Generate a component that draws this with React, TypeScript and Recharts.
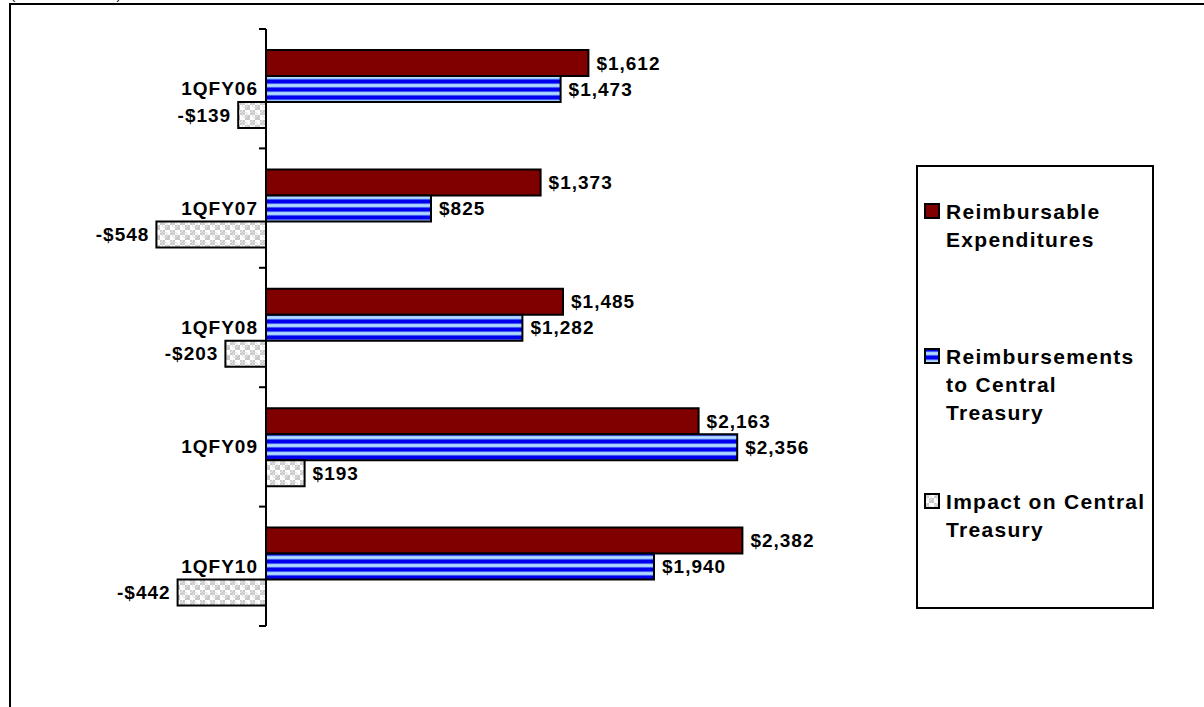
import React from "react"
import { BarChart, Bar, XAxis, YAxis, LabelList, ReferenceLine } from "recharts"

// Quarter labels and series values (millions of dollars)
const PERIODS = ["1QFY06", "1QFY07", "1QFY08", "1QFY09", "1QFY10"]
const EXPENDITURES = [1612, 1373, 1485, 2163, 2382]
const REIMBURSEMENTS = [1473, 825, 1282, 2356, 1940]
const IMPACT = [-139, -548, -203, 193, -442]

const SERIES_NAMES = [
  "Reimbursable\nExpenditures",
  "Reimbursements\nto Central\nTreasury",
  "Impact on Central\nTreasury",
]
const SERIES_KEYS = ["expenditures", "reimbursements", "impact"]
const SERIES_FILLS = ["#800000", "url(#blueStripes)", "url(#grayChecks)"]

const data = PERIODS.map((period, i) => ({
  period,
  expenditures: EXPENDITURES[i],
  reimbursements: REIMBURSEMENTS[i],
  impact: IMPACT[i],
}))

const FONT = "'Liberation Sans', Arial, sans-serif"

// chart geometry
const CHART_W = 1204
const CHART_H = 707
const MARGIN = { top: 29, right: 338, bottom: 81, left: 6 }
const Y_AXIS_W = 60
const X_DOMAIN: [number, number] = [-1000, 3000]
const PLOT_W = CHART_W - MARGIN.left - MARGIN.right - Y_AXIS_W
// the category axis crosses the value axis at zero, like the Excel original
const ZERO_SHIFT = ((0 - X_DOMAIN[0]) / (X_DOMAIN[1] - X_DOMAIN[0])) * PLOT_W

function money(v: number) {
  const abs = Math.abs(v).toString().replace(/\B(?=(\d{3})+(?!\d))/g, ",")
  return (v < 0 ? "-$" : "$") + abs
}

// value label: right of positive bars, left of negative bars
function ValueLabel(props: any) {
  const { x, y, width, height, value } = props
  const left = Math.min(x, x + width)
  const right = Math.max(x, x + width)
  const neg = value < 0
  return (
    <text
      x={neg ? left - 7 : right + 8}
      y={y + height / 2 + 6.5}
      textAnchor={neg ? "end" : "start"}
      fontFamily={FONT}
      fontWeight="bold"
      fontSize={19}
      letterSpacing={1}
      fill="#000"
    >
      {money(value)}
    </text>
  )
}

// category label plus tick marks on the band boundaries
function CategoryTick(props: any) {
  const { y, payload, index, visibleTicksCount } = props
  const x = props.x + ZERO_SHIFT
  const half = payload?.offset ?? 0
  const last = index === visibleTicksCount - 1
  return (
    <g>
      <line x1={x + 1} x2={x + 8} y1={y - half} y2={y - half} stroke="#000" strokeWidth={2} />
      {last && <line x1={x + 1} x2={x + 8} y1={y + half} y2={y + half} stroke="#000" strokeWidth={2} />}
      <text
        x={x}
        y={y + 6.5}
        textAnchor="end"
        fontFamily={FONT}
        fontWeight="bold"
        fontSize={19}
        letterSpacing={1}
        fill="#000"
      >
        {payload.value}
      </text>
    </g>
  )
}

function Swatch({ fill }: { fill: string }) {
  return (
    <svg width={16} height={16} style={{ position: "absolute", left: 6, top: 5 }}>
      <rect x={1} y={1} width={14} height={14} fill={fill} stroke="#000" strokeWidth={2} />
    </svg>
  )
}

export default function App() {
  return (
    <div
      style={{
        position: "fixed",
        left: 0,
        top: 0,
        width: CHART_W,
        height: CHART_H,
        overflow: "hidden",
        background: "#fff",
      }}
    >
      <div
        style={{
          position: "absolute",
          left: 11,
          top: -13,
          fontFamily: FONT,
          fontSize: 13,
          whiteSpace: "nowrap",
        }}
      >
        (Dollars in Millions)
      </div>
      <div
        style={{
          position: "absolute",
          left: 9,
          top: 3,
          width: 1300,
          height: 800,
          border: "2px solid #000",
          boxSizing: "border-box",
        }}
      />
      <div style={{ position: "absolute", left: 0, top: 0 }}>
        <BarChart
          width={CHART_W}
          height={CHART_H}
          data={data}
          layout="vertical"
          margin={MARGIN}
          barSize={26}
          barGap={0}
        >
          <defs>
            <pattern id="blueStripes" patternUnits="userSpaceOnUse" width={8} height={8}>
              <rect x={0} y={0} width={8} height={8} fill="#0000ee" />
              <rect x={0} y={3.5} width={8} height={4} fill="#80b3ff" />
              <rect x={0} y={4.5} width={8} height={2} fill="#b8dcff" />
            </pattern>
            <pattern id="grayChecks" patternUnits="userSpaceOnUse" width={10} height={10}>
              <rect x={0} y={0} width={10} height={10} fill="#ffffff" />
              <rect x={0} y={0} width={5} height={5} fill="#c8c8c8" />
              <rect x={5} y={5} width={5} height={5} fill="#c8c8c8" />
              <circle cx={5} cy={5} r={2.6} fill="none" stroke="#e0e0e0" strokeWidth={1} />
              <circle cx={0} cy={0} r={2.6} fill="none" stroke="#ededed" strokeWidth={1} />
            </pattern>
          </defs>
          <XAxis type="number" domain={X_DOMAIN} hide />
          <YAxis
            type="category"
            dataKey="period"
            width={Y_AXIS_W}
            axisLine={false}
            tickLine={false}
            tickSize={0}
            tickMargin={8}
            interval={0}
            tick={<CategoryTick />}
          />
          {SERIES_KEYS.map((key, i) => (
            <Bar
              key={key}
              dataKey={key}
              name={SERIES_NAMES[i]}
              fill={SERIES_FILLS[i]}
              stroke="#000"
              strokeWidth={2}
              isAnimationActive={false}
            >
              <LabelList dataKey={key} content={<ValueLabel />} />
            </Bar>
          ))}
          <ReferenceLine x={0} stroke="#000" strokeWidth={2} />
        </BarChart>
      </div>
      <div
        style={{
          position: "absolute",
          left: 916,
          top: 165,
          width: 238,
          height: 444,
          border: "2px solid #000",
          boxSizing: "border-box",
          fontFamily: FONT,
          fontWeight: "bold",
          fontSize: 21,
          letterSpacing: 1.3,
          lineHeight: "28px",
        }}
      >
        {SERIES_NAMES.map((name, i) => (
          <div key={name} style={{ position: "absolute", left: 0, top: 31 + i * 145, width: 234 }}>
            <Swatch fill={SERIES_FILLS[i]} />
            <div style={{ marginLeft: 28, whiteSpace: "pre" }}>{name}</div>
          </div>
        ))}
      </div>
    </div>
  )
}
